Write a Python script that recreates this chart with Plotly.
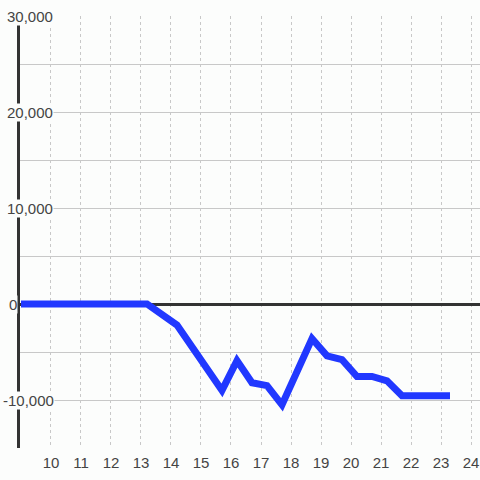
import plotly.graph_objects as go

x_vals = [9, 13.2, 14.2, 15.7, 16.2, 16.7, 17.2, 17.7, 18.7, 19.2, 19.7, 20.2, 20.7, 21.2, 21.7, 23.3]
y_vals = [0, 0, -2200, -9000, -5900, -8200, -8500, -10500, -3600, -5400, -5800, -7550, -7550, -8000, -9550, -9550]
y_label_vals = [30000, 20000, 10000, 0, -10000]
y_label_text = ["30,000", "20,000", "10,000", "0", "-10,000"]
x_tick_vals = list(range(10, 25))

# label left edges in pixels (layout only)
label_left_px = [6, 6, 6, 8, 2]

BG = "#fcfdfc"
FONT = "Liberation Sans, Arial, sans-serif"
W, H = 480, 480
ML, MR, MT, MB = 20, 0, 16, 32

fig = go.Figure()
fig.add_trace(go.Scatter(
    x=x_vals, y=y_vals, mode="lines",
    line=dict(color="#2138ff", width=7),
    hoverinfo="skip",
))

for v, t, px in zip(y_label_vals, y_label_text, label_left_px):
    fig.add_annotation(
        x=(px - ML) / (W - ML - MR), xref="paper", y=v, yref="y",
        text=t, showarrow=False, xanchor="left", yanchor="middle",
        bgcolor=BG, borderpad=0,
        font=dict(family=FONT, size=15, color="#444"),
    )

fig.update_layout(
    width=W, height=H,
    margin=dict(l=ML, r=MR, t=MT, b=MB, autoexpand=False),
    paper_bgcolor=BG, plot_bgcolor=BG,
    showlegend=False,
    font=dict(family=FONT, size=15, color="#444"),
    xaxis=dict(
        range=[8.967, 24.3], tickvals=x_tick_vals,
        showgrid=True, gridcolor="#c8c8c8", gridwidth=1, griddash="3px,3px",
        zeroline=False, showline=False, ticks="",
        ticklabelstandoff=4,
        tickfont=dict(family=FONT, size=15, color="#444"),
    ),
    yaxis=dict(
        range=[-15000, 30000], dtick=5000, tick0=0,
        showgrid=True, gridcolor="#c8c8c8", gridwidth=1,
        zeroline=True, zerolinecolor="#333", zerolinewidth=3,
        showline=True, linecolor="#333", linewidth=3,
        showticklabels=False, ticks="",
    ),
)

fig.write_html(
    "out.html",
    config={"displayModeBar": False},
    post_script="document.body.style.margin='0';document.body.style.background='%s';" % BG,
)
